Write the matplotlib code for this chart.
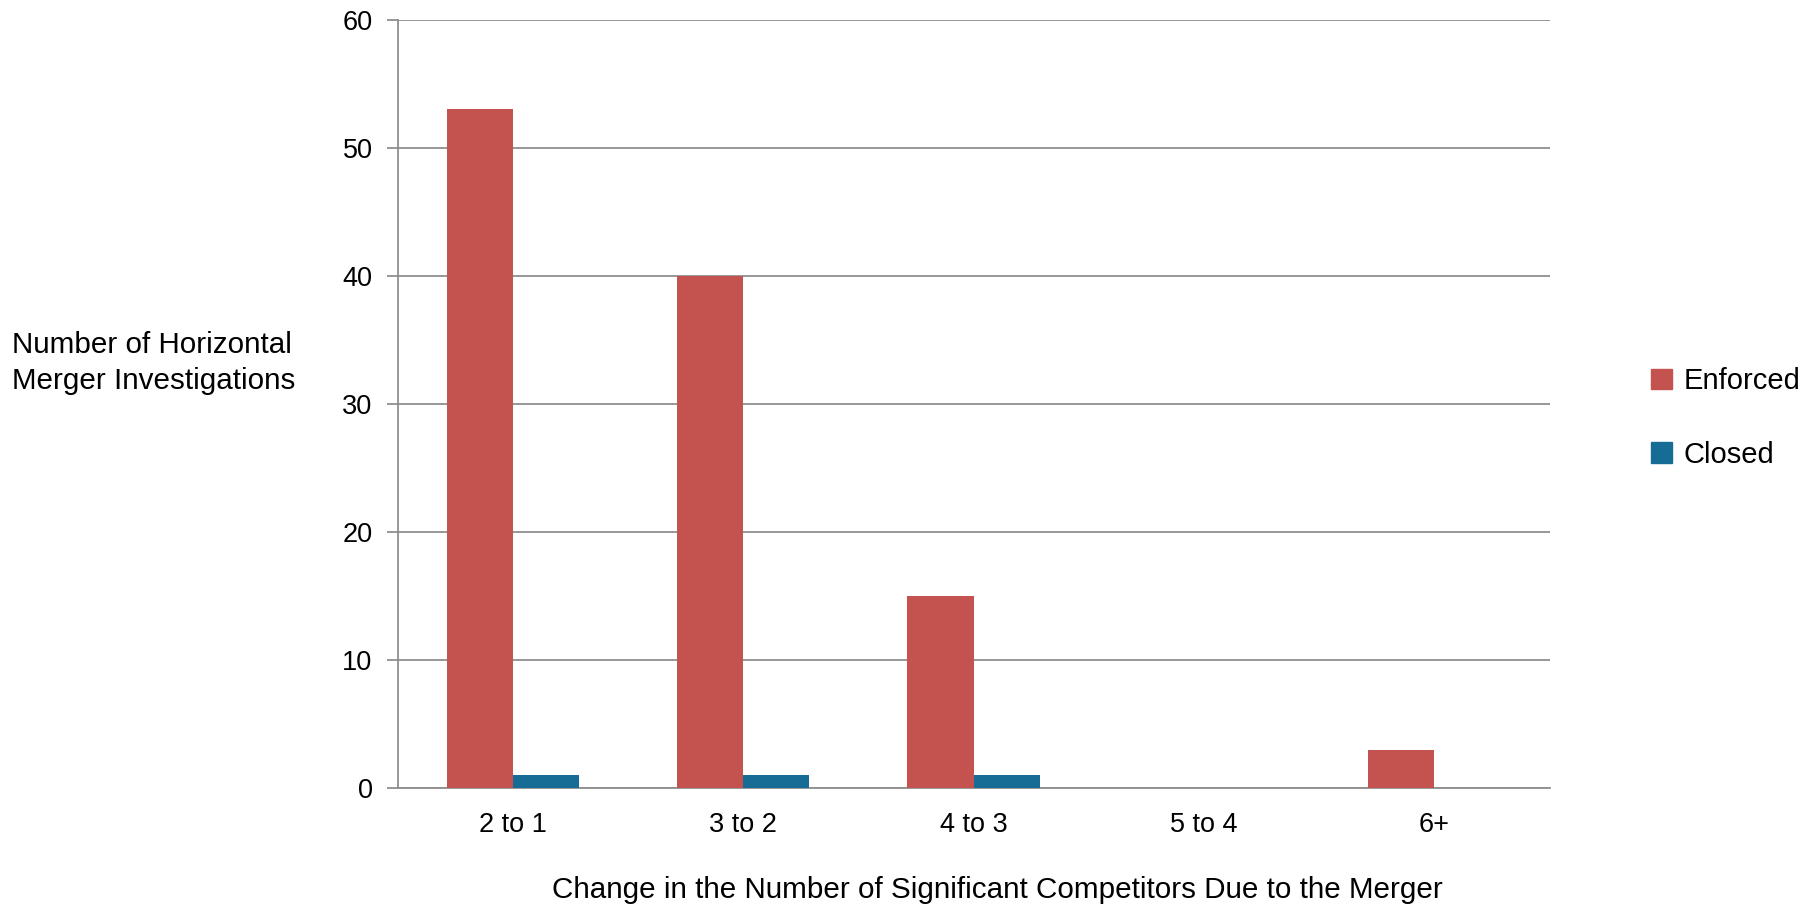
import numpy as np
import matplotlib.pyplot as plt
from matplotlib.patches import Patch

plt.rcParams['font.family'] = ['Liberation Sans', 'DejaVu Sans']

categories = ["2 to 1", "3 to 2", "4 to 3", "5 to 4", "6+"]
enforced = [53, 40, 15, 0, 3]
closed = [1, 1, 1, 0, 0]

red = "#C4524F"
blue = "#176C96"
grid_c = "#8f8f8f"

fig = plt.figure(figsize=(18.17, 9.16), dpi=100)
ax = fig.add_axes([0.2188, 0.1397, 0.634, 0.8387])

x = np.arange(len(categories))
w = 0.287
ax.bar(x - w / 2, enforced, w, color=red, zorder=3)
ax.bar(x + w / 2, closed, w, color=blue, zorder=3)

ax.set_xlim(-0.5, len(categories) - 0.5)
ax.set_ylim(0, 60)
ax.set_yticks(range(0, 61, 10))
ax.set_xticks(x)
ax.set_xticklabels(categories)
ax.yaxis.grid(True, color=grid_c, linewidth=1.3, zorder=0)
ax.tick_params(axis='y', length=8, width=1.3, color=grid_c, labelsize=19.5, pad=10)
ax.tick_params(axis='x', length=0, labelsize=19.5, pad=17)
for s in ['top', 'right']:
    ax.spines[s].set_visible(False)
for s in ['left', 'bottom']:
    ax.spines[s].set_color(grid_c)
    ax.spines[s].set_linewidth(1.3)

fig.text(12 / 1817, 1 - 363 / 916, "Number of Horizontal\nMerger Investigations",
         fontsize=21.3, ha='left', va='center', linespacing=1.32)
fig.text(997 / 1817, 1 - 890 / 916,
         "Change in the Number of Significant Competitors Due to the Merger",
         fontsize=21.3, ha='center', va='center')

handles = [Patch(color=red, label="Enforced"), Patch(color=blue, label="Closed")]
fig.legend(handles=handles, loc='center left', bbox_to_anchor=(1625 / 1817, 1 - 418 / 916),
           frameon=False, fontsize=21, handlelength=0.7, handleheight=0.7,
           handletextpad=0.4, labelspacing=1.55)

fig.savefig("out.png", dpi=100)
